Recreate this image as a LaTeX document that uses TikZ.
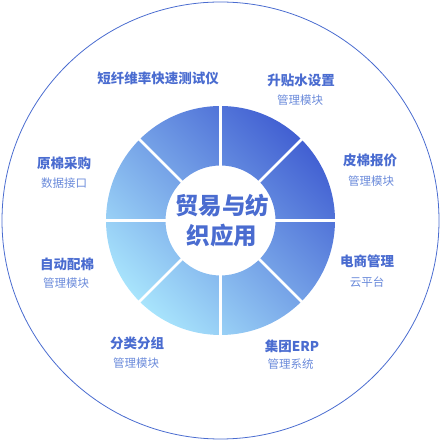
\documentclass[tikz,border=0pt]{standalone}
\usepackage{fontspec}
\newfontfamily\cjk{Noto Sans CJK SC}
\usepackage{tikz}
\usetikzlibrary{calc}
\definecolor{ringdark}{RGB}{66,96,210}
\definecolor{ringlight}{RGB}{168,228,252}
\definecolor{labelblue}{RGB}{74,108,208}
\definecolor{subblue}{RGB}{106,138,218}

\begin{document}
\begin{tikzpicture}[x=1pt, y=1pt,
    title/.style={font=\cjk\bfseries\fontsize{13.5}{14}\selectfont, text=labelblue, inner sep=0pt},
    sub/.style={font=\cjk\fontsize{11.5}{12}\selectfont, text=subblue, inner sep=0pt}]
    \useasboundingbox (0,0) rectangle (441,441);

    % Outer circle
    \draw[labelblue, line width=0.8pt] (220.5,220.5) circle (218.5);

    % Ring
    \coordinate (C) at (220.5,220.5);
    \shade[even odd rule, top color=ringdark, bottom color=ringlight, shading angle=-45]
        (C) circle (114.5) (C) circle (55);
    \foreach \a in {0,45,...,315} \draw[white, line width=2.6pt] ($(C)+(\a:52)$) -- ($(C)+(\a:118)$);

    % Centre text
    \node[title, font=\cjk\bfseries\fontsize{23.5}{30}\selectfont, align=center] (core) at (222,220) {贸易与纺\\织应用};

    % Labels
    \node[title] (fiber) at (158,363) {短纤维率快速测试仪};
    \node[title] (premium) at (301,361) {升贴水设置};
    \node[sub] (premiumsub) at (300,341) {管理模块};
    \node[title] (raw) at (64,278) {原棉采购};
    \node[sub] (rawsub) at (64,258) {数据接口};
    \node[title] (quote) at (370,281) {皮棉报价};
    \node[sub] (quotesub) at (371,260) {管理模块};
    \node[title] (blend) at (67,177) {自动配棉};
    \node[sub] (blendsub) at (66,158) {管理模块};
    \node[title] (ecom) at (367,180) {电商管理};
    \node[sub] (ecomsub) at (367,159) {云平台};
    \node[title] (sort) at (137,98) {分类分组};
    \node[sub] (sortsub) at (136,78) {管理模块};
    \node[title] (erp) at (292,95) {集团ERP};
    \node[sub] (erpsub) at (290.5,77) {管理系统};
\end{tikzpicture}
\end{document}
